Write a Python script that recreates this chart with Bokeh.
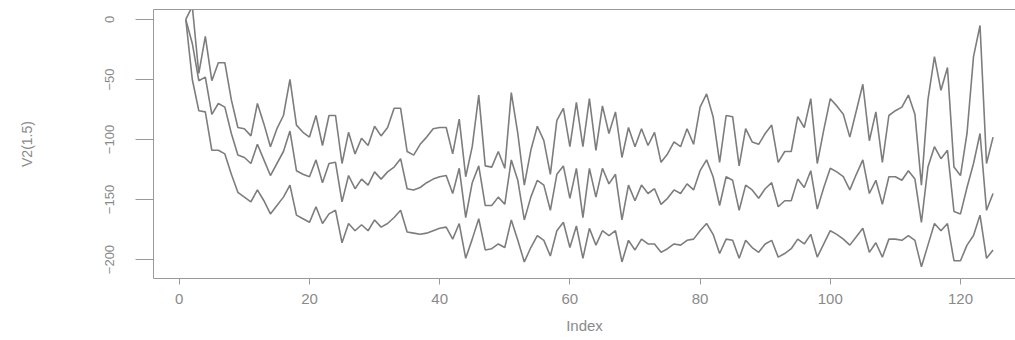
from bokeh.plotting import figure
from bokeh.models import Range1d, FixedTicker, LinearAxis, ColumnDataSource
from bokeh.embed import file_html
from bokeh.resources import INLINE

# Series values by index (1..125)
upper = [0, 11, -45, -14, -51, -36, -36, -67, -90, -91,
         -97, -70, -87, -106, -91, -80, -50, -88, -94, -98,
         -80, -105, -80, -80, -120, -94, -112, -99, -105, -89,
         -97, -90, -74, -74, -110, -113, -104, -98, -91, -90,
         -90, -112, -83, -131, -106, -63, -122, -123, -110, -124,
         -61, -95, -138, -109, -89, -101, -129, -84, -74, -106,
         -69, -106, -66, -109, -72, -95, -77, -115, -90, -106,
         -91, -105, -94, -119, -112, -102, -106, -91, -104, -73,
         -62, -81, -119, -80, -81, -122, -91, -102, -104, -95,
         -88, -119, -110, -110, -81, -90, -66, -120, -92, -66,
         -72, -79, -98, -76, -54, -101, -77, -119, -80, -76,
         -73, -63, -79, -138, -67, -31, -59, -40, -123, -130,
         -95, -31, -5, -120, -98]

middle = [0, -20, -51, -48, -79, -70, -73, -95, -113, -115,
          -120, -104, -117, -130, -120, -110, -93, -126, -129, -131,
          -117, -136, -120, -119, -152, -130, -141, -133, -138, -127,
          -133, -127, -123, -116, -141, -142, -140, -136, -133, -131,
          -130, -145, -124, -165, -136, -122, -155, -155, -148, -154,
          -117, -134, -167, -148, -134, -138, -159, -129, -122, -149,
          -124, -165, -124, -148, -124, -137, -129, -167, -138, -151,
          -138, -145, -141, -154, -149, -142, -145, -137, -142, -126,
          -117, -131, -155, -131, -134, -159, -138, -142, -149, -141,
          -136, -156, -151, -151, -133, -140, -126, -158, -140, -124,
          -127, -131, -142, -129, -117, -145, -134, -154, -131, -131,
          -134, -126, -133, -169, -123, -106, -116, -109, -160, -162,
          -140, -120, -95, -159, -145]

lower = [0, -50, -76, -77, -109, -109, -112, -129, -144, -148,
         -152, -142, -151, -162, -155, -148, -138, -163, -166, -169,
         -156, -170, -162, -159, -186, -170, -176, -171, -176, -167,
         -173, -170, -165, -159, -177, -178, -179, -178, -176, -174,
         -173, -183, -170, -199, -183, -166, -192, -191, -187, -190,
         -167, -184, -202, -190, -180, -184, -197, -176, -169, -190,
         -172, -199, -174, -188, -176, -180, -176, -202, -184, -192,
         -183, -187, -187, -194, -191, -187, -188, -184, -183, -176,
         -170, -179, -195, -183, -184, -199, -184, -190, -194, -187,
         -184, -198, -195, -191, -183, -187, -179, -198, -187, -176,
         -179, -183, -188, -181, -174, -194, -186, -198, -183, -183,
         -184, -180, -184, -206, -188, -170, -176, -170, -201, -201,
         -188, -180, -163, -199, -192]

index = list(range(1, len(middle) + 1))

x_ticks = [0, 20, 40, 60, 80, 100, 120]
y_ticks = [-200, -150, -100, -50, 0]

LINE = "#7d7d7d"
AXIS = "#9a9a9a"
TEXT = "#8a8a8a"
FONT = "Liberation Sans"

src = ColumnDataSource(dict(index=index, upper=upper, middle=middle, lower=lower))

p = figure(width=1015, height=340, output_backend="svg", toolbar_location=None,
           x_range=Range1d(-3.96, 128.45), y_range=Range1d(-215.8, 8.3),
           min_border_left=153, min_border_right=0, min_border_top=9,
           min_border_bottom=62)
p.outline_line_color = None
p.xgrid.grid_line_color = None
p.ygrid.grid_line_color = None
p.background_fill_color = "white"
p.border_fill_color = "white"

for col in ("upper", "middle", "lower"):
    p.line("index", col, source=src, line_color=LINE, line_width=1.6)

xa = p.xaxis[0]
xa.ticker = FixedTicker(ticks=x_ticks)
xa.axis_label = "Index"
xa.major_tick_out = 6
xa.major_tick_in = 0
xa.minor_tick_out = 0
xa.minor_tick_in = 0
xa.major_label_standoff = 9
xa.axis_label_standoff = 10

ya = p.yaxis[0]
ya.ticker = FixedTicker(ticks=y_ticks)
ya.axis_label = "V2(1.5)"
ya.major_tick_out = 18
ya.major_tick_in = 0
ya.minor_tick_out = 0
ya.minor_tick_in = 0
ya.major_label_orientation = "vertical"
ya.major_label_standoff = 21
ya.axis_label_standoff = 68

for ax in (xa, ya):
    ax.axis_line_color = AXIS
    ax.major_tick_line_color = AXIS
    ax.major_label_text_color = TEXT
    ax.axis_label_text_color = TEXT
    ax.major_label_text_font = FONT
    ax.axis_label_text_font = FONT
    ax.axis_label_text_font_style = "normal"
xa.major_label_text_font_size = "15px"
xa.axis_label_text_font_size = "15px"
ya.major_label_text_font_size = "13px"
ya.axis_label_text_font_size = "14px"

# top edge of the plotting box
top = LinearAxis(ticker=FixedTicker(ticks=[]), axis_line_color=AXIS,
                 major_tick_out=0, major_tick_in=0, minor_tick_out=0,
                 minor_tick_in=0, major_label_text_font_size="0px")
p.add_layout(top, "above")

open("out.html", "w").write(file_html(p, INLINE))
